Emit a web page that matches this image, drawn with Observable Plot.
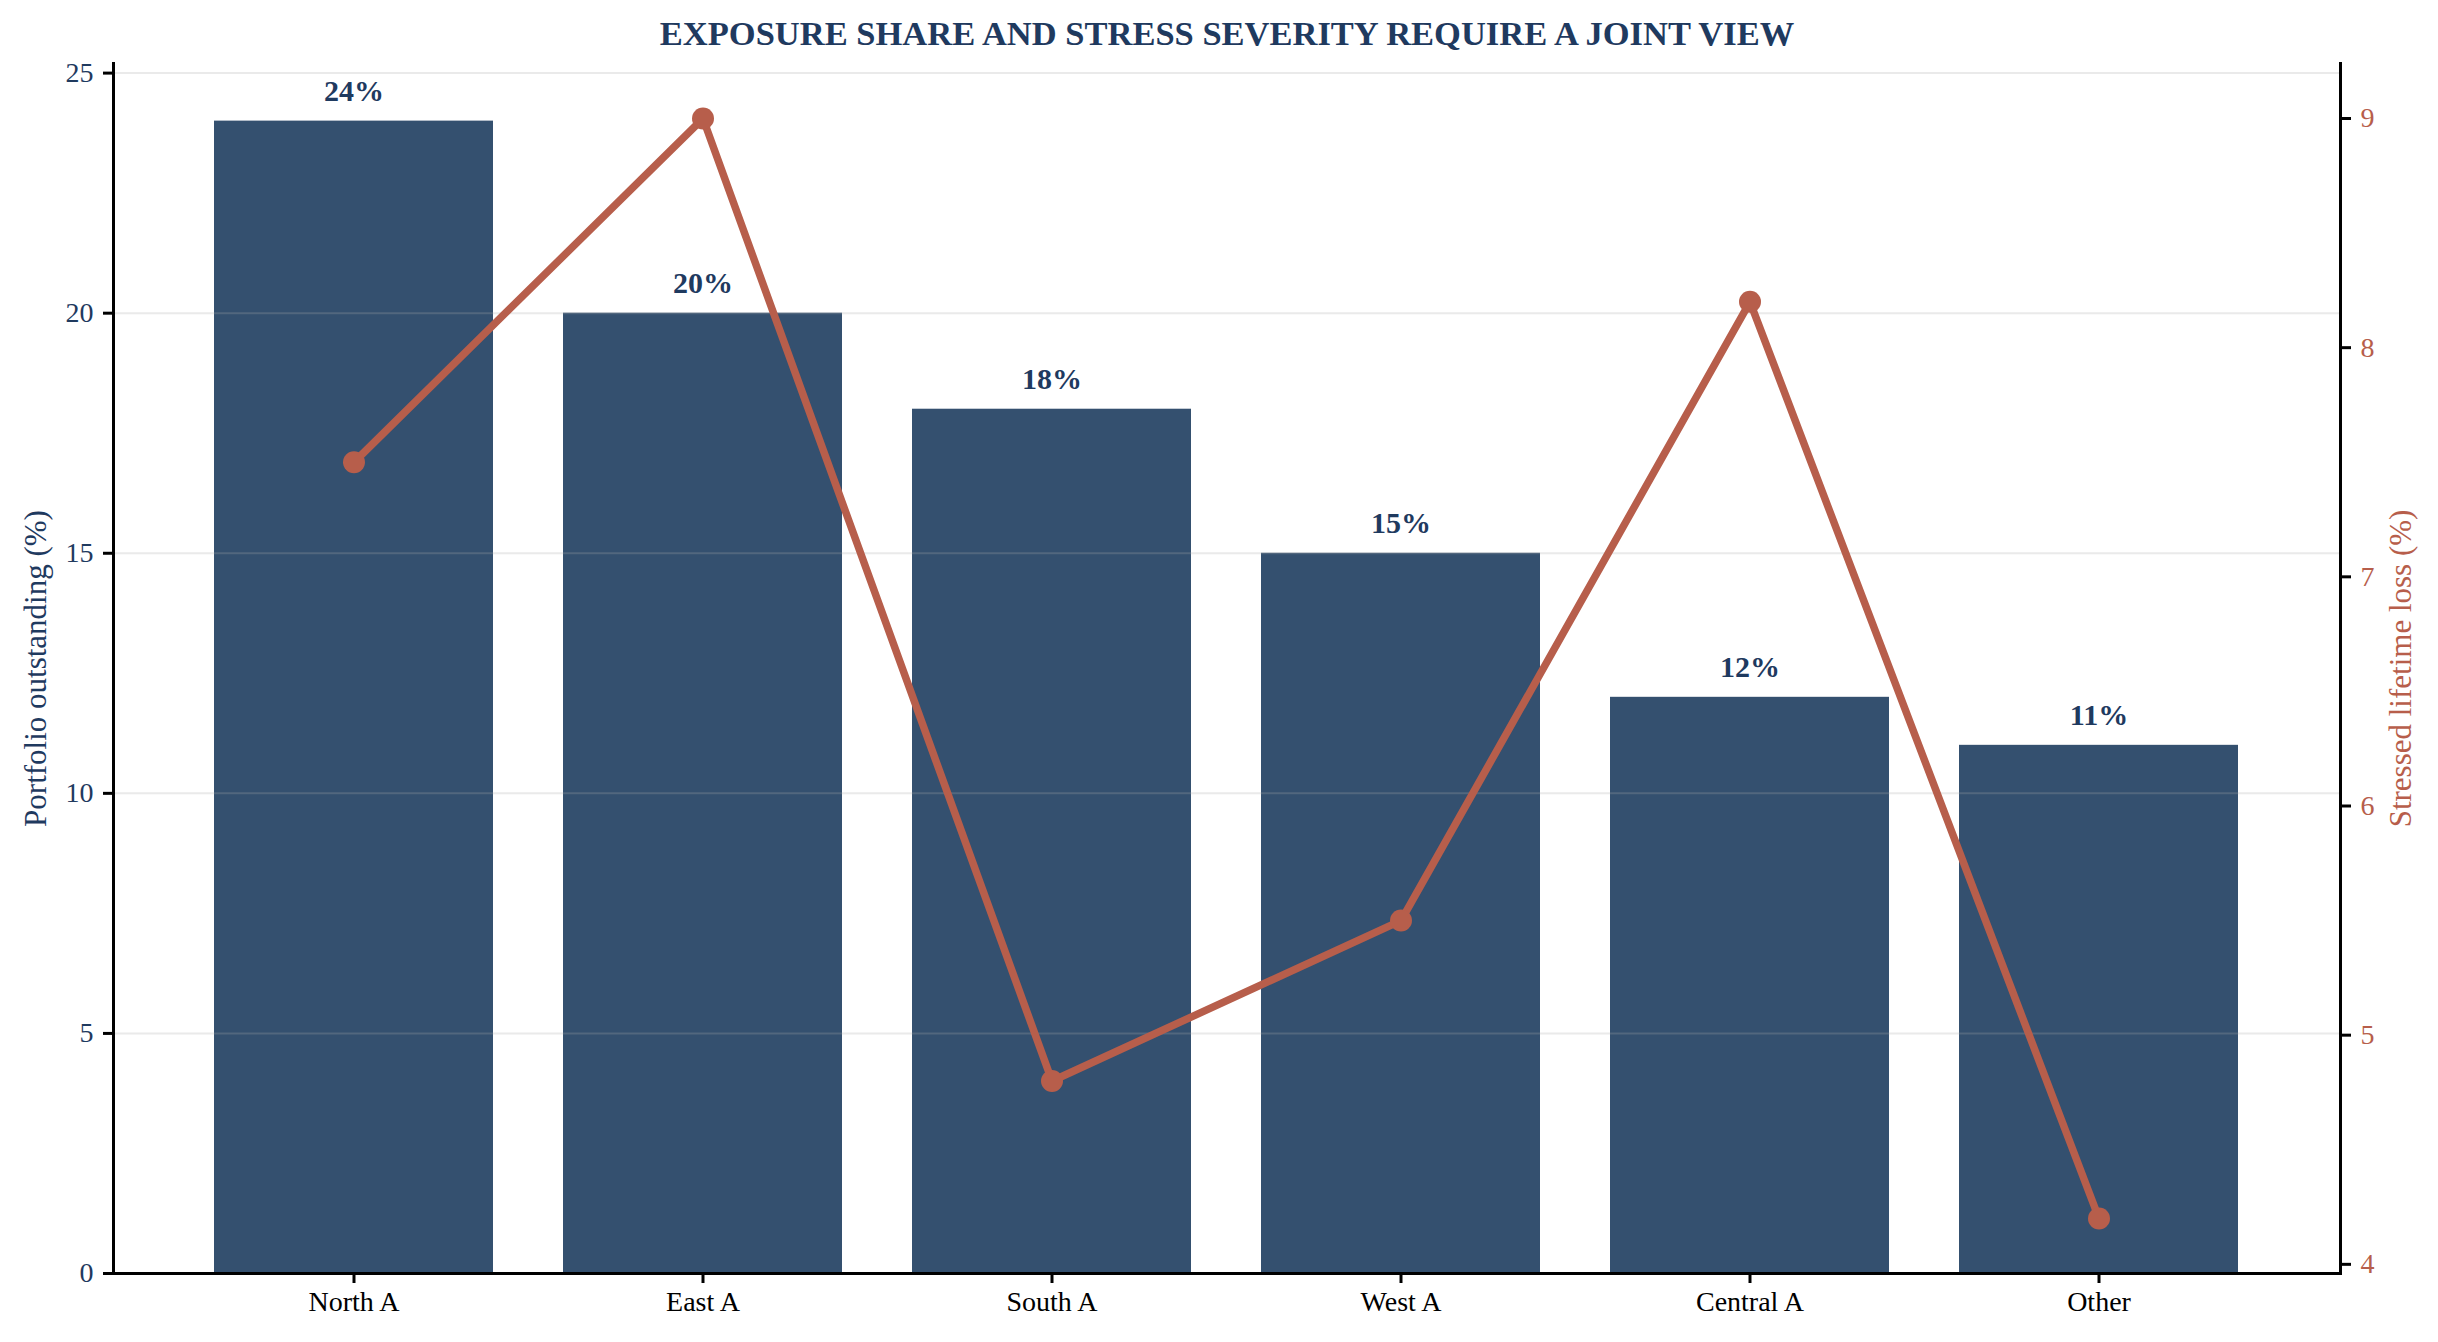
<!DOCTYPE html>
<html><head><meta charset="utf-8">
<script src="https://cdn.jsdelivr.net/npm/d3@7"></script>
<script src="https://cdn.jsdelivr.net/npm/@observablehq/plot@0.6"></script>
<style>html,body{margin:0;padding:0;background:#fff;overflow:hidden}</style>
</head><body><div id="chart"></div>
<script>
const categories = ["North A", "East A", "South A", "West A", "Central A", "Other"];
const share = [24, 20, 18, 15, 12, 11];
const stress = [7.5, 9.0, 4.8, 5.5, 8.2, 4.2];
const leftTicks = [0, 5, 10, 15, 20, 25];
const rightTicks = [4, 5, 6, 7, 8, 9];
const title = "EXPOSURE SHARE AND STRESS SEVERITY REQUIRE A JOINT VIEW";
const leftLabel = "Portfolio outstanding (%)";
const rightLabel = "Stressed lifetime loss (%)";

const leftDomain = [0, 25.2];
const rightDomain = [3.96, 9.24];
const toLeft = v => leftDomain[0] + (v - rightDomain[0]) / (rightDomain[1] - rightDomain[0]) * (leftDomain[1] - leftDomain[0]);
const fromLeft = y => rightDomain[0] + (y - leftDomain[0]) / (leftDomain[1] - leftDomain[0]) * (rightDomain[1] - rightDomain[0]);
const rows = categories.map((c, i) => ({category: c, share: share[i], stress: stress[i], stressY: toLeft(stress[i])}));

const navy = "#1f3a5f", barColor = "#34506f", rust = "#b75e4b";
const plot = Plot.plot({
  width: 2438, height: 1342,
  marginLeft: 113, marginRight: 98, marginTop: 63, marginBottom: 69,
  style: {fontFamily: "'Liberation Serif', 'Times New Roman', serif", fontSize: "28px", background: "#fff", overflow: "visible"},
  x: {type: "band", domain: categories, paddingInner: 0.2, paddingOuter: 0.29, align: 0.5, label: null},
  y: {domain: leftDomain, label: null},
  marks: [
    Plot.barY(rows, {x: "category", y: "share", fill: barColor}),
    Plot.ruleY(leftTicks.filter(d => d > 0), {stroke: "#aaaaaa", strokeOpacity: 0.25, strokeWidth: 2}),
    Plot.line(rows, {x: "category", y: "stressY", stroke: rust, strokeWidth: 7.5, strokeLinejoin: "round"}),
    Plot.dot(rows, {x: "category", y: "stressY", r: 11, fill: rust}),
    Plot.text(rows, {x: "category", y: "share", text: d => d.share + "%", lineAnchor: "bottom", dy: -20, fontWeight: "bold", fontSize: 30, fill: navy}),
    Plot.ruleY([0], {stroke: "#000", strokeWidth: 3}),
    Plot.frame({anchor: "left", stroke: "#000", strokeWidth: 3}),
    Plot.frame({anchor: "right", stroke: "#000", strokeWidth: 3}),
    Plot.axisX({tickSize: 10, tickPadding: 8, stroke: "#000", strokeWidth: 3, fill: "#000", fontSize: 28, label: null}),
    Plot.axisY(leftTicks, {anchor: "left", tickSize: 10, tickPadding: 10, stroke: "#000", strokeWidth: 3, fill: navy, fontSize: 28, label: null}),
    Plot.axisY(rightTicks.map(toLeft), {anchor: "right", tickSize: 10, tickPadding: 10, stroke: "#000", strokeWidth: 3, fill: rust, fontSize: 28, label: null, tickFormat: d => String(Math.round(fromLeft(d)))}),
    Plot.text([leftLabel], {frameAnchor: "left", text: d => d, rotate: -90, dx: -77, textAnchor: "middle", lineAnchor: "middle", fill: navy, fontSize: 31}),
    Plot.text([rightLabel], {frameAnchor: "right", text: d => d, rotate: -90, dx: 61, textAnchor: "middle", lineAnchor: "middle", fill: rust, fontSize: 31}),
    Plot.text([title], {frameAnchor: "top", text: d => d, dy: -30, textAnchor: "middle", lineAnchor: "middle", fontWeight: "bold", fontSize: 34.5, fill: navy})
  ]
});
document.getElementById("chart").appendChild(plot);
</script>
</body></html>
